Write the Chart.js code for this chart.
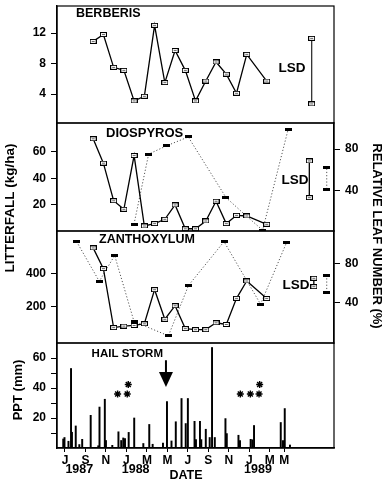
<!DOCTYPE html>
<html>
<head>
<meta charset="utf-8">
<script src="https://cdn.jsdelivr.net/npm/chart.js@4/dist/chart.umd.min.js"></script>
<style>
  html, body { margin: 0; padding: 0; background: #fff; }
  #wrap { position: relative; width: 389px; height: 485px; }
  #wrap canvas { position: absolute; left: 0; top: 0; }
</style>
</head>
<body>
<div id="wrap">
  <canvas id="berberis" width="389" height="485"></canvas>
  <canvas id="diospyros" width="389" height="485"></canvas>
  <canvas id="zanthoxylum" width="389" height="485"></canvas>
  <canvas id="ppt" width="389" height="485"></canvas>
</div>
<script>
// ---- time axis (months counted from Jan 1987 = 1) ----
const monthTicks  = [7, 9, 11, 13, 15, 17, 19, 21, 23, 25, 27, 28.4];
const monthLabels = ['J', 'S', 'N', 'J', 'M', 'M', 'J', 'S', 'N', 'J', 'M', 'M'];
const yearPos     = [8.4, 13.9, 25.85];
const yearLabels  = ['1987', '1988', '1989'];

// ---- litterfall collections (kg/ha) ----
const litterDates = [9.75, 10.75, 11.75, 12.75, 13.75, 14.75, 15.75, 16.75, 17.75,
                     18.75, 19.75, 20.75, 21.75, 22.75, 23.75, 24.75, 26.7];
const berberis    = [10.9, 11.8, 7.5, 7.1, 3.1, 3.7, 13.0, 5.5, 9.7,
                     7.1, 3.1, 5.7, 8.2, 6.6, 4.1, 9.2, 5.7];
const diospyros   = [70, 51.5, 23, 16.5, 57.3, 3.8, 5.6, 8.9, 19.8,
                     1.7, 1.7, 7.6, 22.6, 5.6, 11.9, 11.4, 5.1];
const zanthoxylum = [552, 428, 75, 84, 88, 98, 302, 125, 206,
                     69, 63, 63, 104, 94, 250, 354, 249];

// ---- relative leaf number (%) ----
const diospyrosLeafDates   = [13.74, 15.17, 16.93, 19.04, 22.72, 24.77, 26.3, 28.8];
const diospyrosLeaf        = [8.1, 75.2, 83.2, 91.6, 33.6, 15.4, 2.3, 99.2];
const zanthoxylumLeafDates = [8.14, 10.35, 11.85, 13.74, 17.1, 19.06, 22.53, 26.1, 28.65];
const zanthoxylumLeaf      = [102, 61.7, 88, 20.9, 6.4, 57.5, 102, 38.5, 101.4];

// ---- least significant differences (low end, high end) ----
const lsdBerberis        = [2.7, 11.3];
const lsdDiospyros       = [25.3, 53.2];
const lsdDiospyrosLeaf   = [41.7, 62.4];
const lsdZanthoxylum     = [320, 370];
const lsdZanthoxylumLeaf = [50.6, 67.4];
const lsdDates = { berberis: 31.09, diospyros: 30.86, diospyrosLeaf: 32.56,
                   zanthoxylum: 31.3, zanthoxylumLeaf: 32.56 };

// ---- precipitation events (mm) ----
const rainDates = [6.83, 6.95, 7.34, 7.59, 7.68, 8.05, 8.4, 8.68, 9.51, 10.25, 10.37, 10.89,
                   11.0, 11.62, 12.22, 12.49, 12.69, 12.86, 13.22, 13.76, 14.65, 15.23, 15.56,
                   16.57, 16.96, 17.4, 17.82, 18.38, 18.79, 19.0, 19.65, 19.79, 20.18, 20.31,
                   20.75, 21.13, 21.36, 21.63, 22.67, 22.8, 23.94, 24.09, 25.13, 25.29, 25.46,
                   28.07, 28.29, 28.46, 28.97];
const rainfall  = [6, 7, 4.5, 53, 10.5, 14.7, 2.3, 5.8, 21.8, 1.5, 27.3, 32.5,
                   5, 1.8, 10.8, 5, 6.7, 6.2, 10.4, 20, 3, 15.7, 2.5,
                   3.3, 31, 4.7, 17.5, 33, 16.3, 33, 17.8, 5.6, 17.8, 5.6,
                   12.5, 7, 67, 7, 19.6, 9.6, 8.5, 5, 5.8, 5.5, 15,
                   17, 5, 26.3, 2];
const hailDate   = 16.86;
const starDates  = [12.14, 13.08, 13.18, 24.12, 25.1, 25.95, 26.01];
const starLevels = [36, 36, 42.3, 36, 36, 36, 42.3];

// ---------------------------------------------------------------
const FONT = "'Liberation Sans', Arial, Helvetica, sans-serif";
Chart.defaults.font.family = FONT;
Chart.defaults.font.weight = 'bold';
Chart.defaults.font.size = 12;
Chart.defaults.color = '#000';
Chart.defaults.animation = false;
Chart.defaults.plugins.legend.display = false;
Chart.defaults.plugins.tooltip.enabled = false;

const W = 389;
const PLOT_LEFT = 57, PLOT_RIGHT = 334;
const X_MIN = 6.22, X_MAX = 33.27;

// marker images: open box for litterfall, solid bar for leaf number
function openMark() {
  const c = document.createElement('canvas'); c.width = 7; c.height = 5;
  const g = c.getContext('2d');
  g.fillStyle = '#fff'; g.fillRect(0, 0, 7, 5);
  g.strokeStyle = '#000'; g.lineWidth = 1; g.strokeRect(0.5, 0.5, 6, 4);
  g.fillStyle = '#666'; g.fillRect(2, 2, 3, 1);
  return c;
}
function solidMark() {
  const c = document.createElement('canvas'); c.width = 7; c.height = 3;
  const g = c.getContext('2d');
  g.fillStyle = '#000'; g.fillRect(0, 0, 7, 3);
  return c;
}
const OPEN = openMark(), SOLID = solidMark();

const pts = (xs, ys) => xs.map((x, i) => ({ x, y: ys[i] }));
const lsdPts = (x, pair) => pair.map(y => ({ x, y }));

function litterSet(data, axis) {
  return { type: 'line', data, yAxisID: axis || 'y', borderColor: '#000', borderWidth: 1.3,
           pointStyle: OPEN, pointRadius: 3, tension: 0, fill: false };
}
function leafSet(data) {
  return { type: 'line', data, yAxisID: 'y2', borderColor: '#555', borderWidth: 1,
           borderDash: [1.2, 2], pointStyle: SOLID, pointRadius: 3, tension: 0, fill: false };
}

function xHidden() { return { type: 'linear', min: X_MIN, max: X_MAX, display: false }; }

function yAxis(position, min, max, tickVals, callback) {
  const ticks = { padding: 5, font: { size: 12, weight: 'bold' }, color: '#000' };
  if (callback) ticks.callback = callback;
  return {
    type: 'linear', position, min, max,
    afterBuildTicks: s => { s.ticks = tickVals.map(v => ({ value: v })); },
    afterFit: s => {
      s.width = position === 'left' ? PLOT_LEFT : W - PLOT_RIGHT;
      s.paddingTop = 0; s.paddingBottom = 0;
    },
    grid: { drawOnChartArea: false, drawTicks: true, tickLength: 6, color: '#000', lineWidth: 1 },
    border: { display: true, color: '#000', width: 1.4 },
    ticks
  };
}

// box round each panel
const framePlugin = {
  id: 'frame',
  afterDraw(chart) {
    const { ctx, chartArea: a } = chart;
    ctx.save();
    ctx.strokeStyle = '#000'; ctx.lineWidth = 1.2;
    ctx.strokeRect(a.left, a.top, a.right - a.left, a.bottom - a.top);
    ctx.restore();
  }
};

// text items: 'area' = offset from plot corner, 'data' = scale values, 'page' = canvas position
const textPlugin = {
  id: 'panelText',
  afterDraw(chart, args, opts) {
    const { ctx, chartArea: a, scales } = chart;
    (opts.items || []).forEach(it => {
      let x, y;
      if (it.kind === 'area') { x = a.left + it.x; y = a.top + it.y; }
      else if (it.kind === 'data') {
        x = scales.x.getPixelForValue(it.x);
        y = it.axis ? scales[it.axis].getPixelForValue(it.y) : it.y;
      } else { x = it.x; y = it.y; }
      ctx.save();
      ctx.font = 'bold ' + (it.size || 12) + 'px ' + FONT;
      ctx.fillStyle = '#000';
      ctx.textAlign = it.align || 'center';
      ctx.textBaseline = 'middle';
      ctx.translate(x, y);
      if (it.rotate) ctx.rotate(it.rotate);
      ctx.fillText(it.text, 0, 0);
      ctx.restore();
    });
  }
};

// hail storm arrow on the precipitation panel
const hailPlugin = {
  id: 'hail',
  afterDraw(chart) {
    const { ctx, scales } = chart;
    const x = scales.x.getPixelForValue(hailDate);
    const y = scales.y;
    const top = y.getPixelForValue(58.5), neck = y.getPixelForValue(50.7), tip = y.getPixelForValue(40.7);
    ctx.save();
    ctx.fillStyle = '#000';
    ctx.fillRect(x - 1, top, 2, neck - top + 1);
    ctx.beginPath();
    ctx.moveTo(x - 7, neck); ctx.lineTo(x + 7, neck); ctx.lineTo(x, tip); ctx.closePath();
    ctx.fill();
    ctx.font = 'bold 11.5px ' + FONT;
    ctx.textAlign = 'right'; ctx.textBaseline = 'middle';
    ctx.fillText('HAIL STORM', x - 3, top - 6);
    ctx.restore();
  }
};

// ---- panel 1: Berberis ----
new Chart(document.getElementById('berberis'), {
  type: 'line',
  data: { datasets: [
    litterSet(pts(litterDates, berberis)),
    Object.assign(litterSet(lsdPts(lsdDates.berberis, lsdBerberis)), { borderColor: '#333' })
  ] },
  options: {
    responsive: false,
    layout: { padding: { left: 0, right: W - PLOT_RIGHT, top: 6, bottom: 362 } },
    scales: { x: xHidden(), y: yAxis('left', 0.2, 15.54, [4, 8, 12]) },
    plugins: { panelText: { items: [
      { kind: 'area', text: 'BERBERIS', x: 19, y: 8, align: 'left', size: 12.5 },
      { kind: 'data', text: 'LSD', x: 29.17, y: 7.4, axis: 'y', size: 13.5 }
    ] } }
  },
  plugins: [framePlugin, textPlugin]
});

// ---- panel 2: Diospyros ----
new Chart(document.getElementById('diospyros'), {
  type: 'line',
  data: { datasets: [
    litterSet(pts(litterDates, diospyros)),
    litterSet(lsdPts(lsdDates.diospyros, lsdDiospyros)),
    leafSet(pts(diospyrosLeafDates, diospyrosLeaf)),
    leafSet(lsdPts(lsdDates.diospyrosLeaf, lsdDiospyrosLeaf))
  ] },
  options: {
    responsive: false,
    layout: { padding: { left: 0, right: 0, top: 123, bottom: 254 } },
    scales: {
      x: xHidden(),
      y: yAxis('left', 0, 82, [20, 40, 60]),
      y2: yAxis('right', 1.5, 105, [40, 80])
    },
    plugins: { panelText: { items: [
      { kind: 'area', text: 'DIOSPYROS', x: 49, y: 10, align: 'left', size: 13 },
      { kind: 'data', text: 'LSD', x: 29.46, y: 38.8, axis: 'y', size: 13.5 }
    ] } }
  },
  plugins: [framePlugin, textPlugin]
});

// ---- panel 3: Zanthoxylum ----
new Chart(document.getElementById('zanthoxylum'), {
  type: 'line',
  data: { datasets: [
    litterSet(pts(litterDates, zanthoxylum)),
    litterSet(lsdPts(lsdDates.zanthoxylum, lsdZanthoxylum)),
    leafSet(pts(zanthoxylumLeafDates, zanthoxylumLeaf)),
    leafSet(lsdPts(lsdDates.zanthoxylumLeaf, lsdZanthoxylumLeaf))
  ] },
  options: {
    responsive: false,
    layout: { padding: { left: 0, right: 0, top: 231, bottom: 142 } },
    scales: {
      x: xHidden(),
      y: yAxis('left', -17, 653, [200, 400]),
      y2: yAxis('right', -0.9, 112.8, [40, 80])
    },
    plugins: { panelText: { items: [
      { kind: 'area', text: 'ZANTHOXYLUM', x: 42, y: 9, align: 'left', size: 12.5 },
      { kind: 'data', text: 'LSD', x: 29.55, y: 330, axis: 'y', size: 13.5 }
    ] } }
  },
  plugins: [framePlugin, textPlugin]
});

// ---- panel 4: precipitation ----
new Chart(document.getElementById('ppt'), {
  type: 'line',
  data: { datasets: [
    { type: 'scatter', data: pts(starDates, starLevels), pointStyle: 'star', pointRadius: 3.5,
      borderColor: '#000', borderWidth: 1.4, backgroundColor: '#000' },
    { type: 'bar', data: pts(rainDates, rainfall), backgroundColor: '#000',
      barThickness: 1.3, grouped: false }
  ] },
  options: {
    responsive: false,
    layout: { padding: { left: 0, right: W - PLOT_RIGHT, top: 343, bottom: 0 } },
    scales: {
      x: {
        type: 'linear', position: 'bottom', min: X_MIN, max: X_MAX, offset: false,
        afterBuildTicks: s => { s.ticks = monthTicks.map(v => ({ value: v })); },
        afterFit: s => { s.height = 37; s.paddingLeft = 0; s.paddingRight = 0; },
        ticks: { callback: (v, i) => monthLabels[i], padding: 1, maxRotation: 0, autoSkip: false,
                 font: { size: 12, weight: 'bold' }, color: '#000' },
        grid: { drawOnChartArea: false, tickLength: 4, color: '#000', offset: false },
        border: { display: true, color: '#000', width: 1.4 }
      },
      y: yAxis('left', 0, 70, [10, 20, 30, 40, 50, 60], v => (v % 20 === 0 ? String(v) : ''))
    },
    plugins: { panelText: { items: [
      { kind: 'data', text: yearLabels[0], x: yearPos[0], y: 470, size: 12.5 },
      { kind: 'data', text: yearLabels[1], x: yearPos[1], y: 470, size: 12.5 },
      { kind: 'data', text: yearLabels[2], x: yearPos[2], y: 470, size: 12.5 },
      { kind: 'page', text: 'DATE', x: 186, y: 476, size: 12.5 },
      { kind: 'page', text: 'PPT (mm)', x: 18, y: 390, size: 13, rotate: -Math.PI / 2 },
      { kind: 'page', text: 'LITTERFALL (kg/ha)', x: 10, y: 208, size: 13.5, rotate: -Math.PI / 2 },
      { kind: 'page', text: 'RELATIVE LEAF NUMBER (%)', x: 377, y: 236, size: 13, rotate: Math.PI / 2 }
    ] } }
  },
  plugins: [framePlugin, textPlugin, hailPlugin]
});
</script>
</body>
</html>
